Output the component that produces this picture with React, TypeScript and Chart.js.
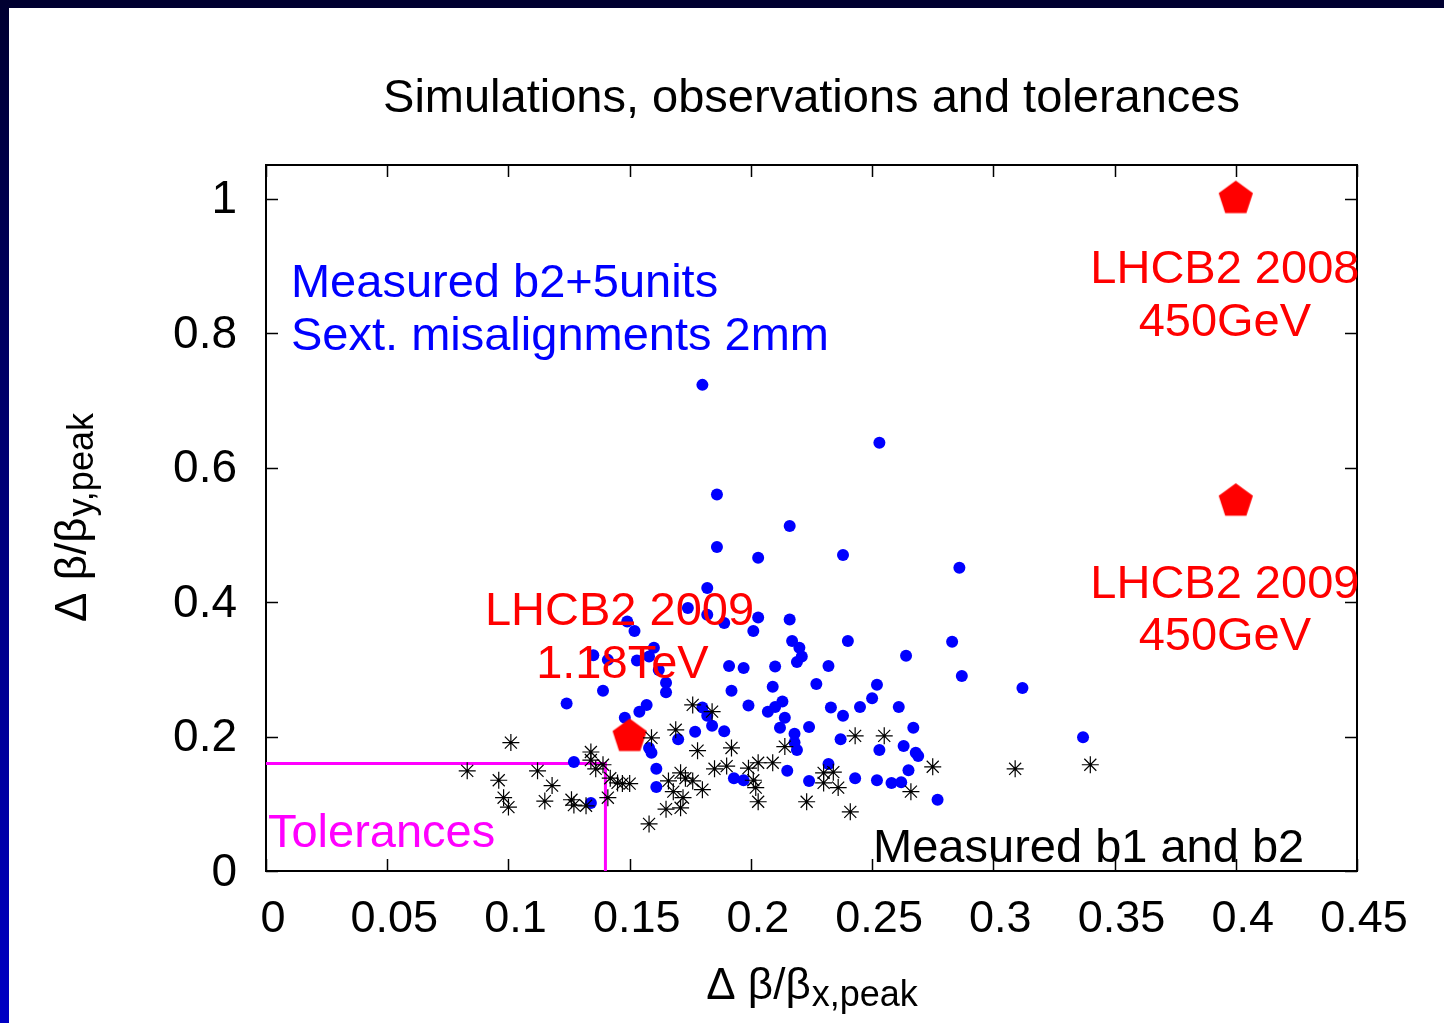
import React, { useEffect, useRef } from "react";
import { Chart, registerables } from "chart.js";

Chart.register(...registerables);

const FONT = "'Liberation Sans', Arial, Helvetica, sans-serif";

const TITLE = "Simulations, observations and tolerances";
const X_TICKS = [0, 0.05, 0.1, 0.15, 0.2, 0.25, 0.3, 0.35, 0.4, 0.45];
const Y_TICKS = [0, 0.2, 0.4, 0.6, 0.8, 1];
const X_MIN = 0;
const X_MAX = 0.45;
const Y_MIN = 0;
const Y_MAX = 1.05;

// Simulations: measured b2 + 5 units, sextupole misalignments 2mm (blue dots)
const SIM_X = [
  0.180, 0.253, 0.186, 0.186, 0.216, 0.203, 0.238, 0.286, 0.182, 0.174,
  0.182, 0.189, 0.203, 0.201, 0.149, 0.152, 0.216, 0.217, 0.220, 0.221,
  0.219, 0.240, 0.283, 0.264, 0.287, 0.312, 0.337, 0.135, 0.141, 0.153,
  0.160, 0.158, 0.162, 0.165, 0.165, 0.139, 0.124, 0.157, 0.154, 0.148,
  0.191, 0.197, 0.210, 0.232, 0.192, 0.209, 0.227, 0.252, 0.250, 0.245,
  0.261, 0.233, 0.238, 0.199, 0.213, 0.210, 0.207, 0.214, 0.212, 0.224,
  0.218, 0.218, 0.219, 0.237, 0.267, 0.263, 0.253, 0.268, 0.269, 0.265,
  0.180, 0.184, 0.177, 0.189, 0.170, 0.193, 0.197, 0.215, 0.224, 0.232,
  0.243, 0.252, 0.258, 0.262, 0.277, 0.158, 0.159, 0.161, 0.161, 0.127,
  0.134, 0.182,
];
const SIM_Y = [
  0.723, 0.637, 0.560, 0.482, 0.513, 0.466, 0.470, 0.451, 0.421, 0.391,
  0.381, 0.369, 0.377, 0.357, 0.371, 0.357, 0.374, 0.342, 0.332, 0.319,
  0.311, 0.342, 0.341, 0.320, 0.290, 0.272, 0.199, 0.321, 0.314, 0.313,
  0.332, 0.319, 0.299, 0.280, 0.266, 0.268, 0.249, 0.247, 0.237, 0.228,
  0.305, 0.302, 0.304, 0.305, 0.268, 0.274, 0.278, 0.277, 0.257, 0.244,
  0.244, 0.243, 0.231, 0.246, 0.252, 0.244, 0.237, 0.228, 0.213, 0.214,
  0.204, 0.191, 0.180, 0.196, 0.213, 0.186, 0.180, 0.176, 0.171, 0.150,
  0.243, 0.216, 0.207, 0.208, 0.196, 0.138, 0.135, 0.149, 0.134, 0.159,
  0.138, 0.135, 0.131, 0.132, 0.106, 0.183, 0.176, 0.152, 0.125, 0.162,
  0.101, 0.231,
];

// Measured b1 and b2 (black asterisks)
const MEAS_X = [
  0.083, 0.096, 0.101, 0.098, 0.100, 0.112, 0.118, 0.115, 0.126, 0.127,
  0.132, 0.134, 0.134, 0.136, 0.139, 0.142, 0.145, 0.147, 0.150, 0.141,
  0.159, 0.169, 0.176, 0.184, 0.178, 0.192, 0.214, 0.166, 0.171, 0.173,
  0.176, 0.168, 0.172, 0.171, 0.165, 0.158, 0.180, 0.185, 0.190, 0.199,
  0.203, 0.209, 0.201, 0.202, 0.203, 0.223, 0.230, 0.234, 0.230, 0.236,
  0.243, 0.255, 0.266, 0.275, 0.241, 0.309, 0.340,
];
const MEAS_Y = [
  0.149, 0.135, 0.191, 0.109, 0.095, 0.149, 0.127, 0.104, 0.106, 0.098,
  0.097, 0.177, 0.165, 0.152, 0.158, 0.138, 0.131, 0.130, 0.130, 0.109,
  0.198, 0.210, 0.247, 0.237, 0.179, 0.183, 0.185, 0.134, 0.146, 0.138,
  0.134, 0.118, 0.109, 0.094, 0.092, 0.070, 0.121, 0.152, 0.156, 0.153,
  0.161, 0.161, 0.135, 0.124, 0.103, 0.103, 0.146, 0.147, 0.131, 0.124,
  0.201, 0.201, 0.118, 0.155, 0.088, 0.152, 0.158,
];

// LHC B2 observations (red pentagons)
const LHC_X = [0.4, 0.4, 0.15];
const LHC_Y = [1.0, 0.55, 0.2];

// Tolerance box
const TOL_X = [0, 0.14, 0.14];
const TOL_Y = [0.16, 0.16, 0];

// Annotations: [text, x, y, align, color]
const NOTES: [string, number, number, CanvasTextAlign, string][] = [
  ["Measured b2+5units", 0.0103, 0.854, "left", "#0000ff"],
  ["Sext. misalignments 2mm", 0.0103, 0.775, "left", "#0000ff"],
  ["LHCB2 2008", 0.3955, 0.875, "center", "#ff0000"],
  ["450GeV", 0.3955, 0.796, "center", "#ff0000"],
  ["LHCB2 2009", 0.3955, 0.406, "center", "#ff0000"],
  ["450GeV", 0.3955, 0.329, "center", "#ff0000"],
  ["LHCB2 2009", 0.1458, 0.366, "center", "#ff0000"],
  ["1.18TeV", 0.147, 0.287, "center", "#ff0000"],
  ["Tolerances", 0.0008, 0.0357, "left", "#ff00ff"],
  ["Measured b1 and b2", 0.2504, 0.0134, "left", "#000000"],
];

function zip(xs: number[], ys: number[]) {
  return xs.map((x, i) => ({ x, y: ys[i] }));
}

function makePentagon(R: number, color: string) {
  const size = Math.ceil(R * 2 + 4);
  const c = document.createElement("canvas");
  c.width = size;
  c.height = size;
  const ctx = c.getContext("2d")!;
  ctx.fillStyle = color;
  ctx.beginPath();
  for (let i = 0; i < 5; i++) {
    const a = -Math.PI / 2 + (i * 2 * Math.PI) / 5;
    const px = size / 2 + R * Math.cos(a);
    const py = size / 2 + R * Math.sin(a);
    if (i === 0) ctx.moveTo(px, py);
    else ctx.lineTo(px, py);
  }
  ctx.closePath();
  ctx.fill();
  return c;
}

const fmt = (v: number) => String(Number(v.toFixed(3)));

const decorPlugin = {
  id: "decor",
  beforeDraw(chart: any) {
    const { ctx, width, height } = chart;
    ctx.save();
    ctx.fillStyle = "#ffffff";
    ctx.fillRect(0, 0, width, height);
    const g = ctx.createLinearGradient(0, 0, 0, height);
    g.addColorStop(0, "#000030");
    g.addColorStop(1, "#0000c4");
    ctx.fillStyle = g;
    ctx.fillRect(0, 0, width, 8);
    ctx.fillRect(0, 0, 9, height);
    ctx.restore();
  },
  beforeDatasetsDraw(chart: any) {
    const { ctx, chartArea: a, scales } = chart;
    const xs = scales.x;
    const ys = scales.y;
    ctx.save();
    ctx.strokeStyle = "#000000";
    ctx.lineWidth = 1.5;
    const tl = 12;
    ctx.beginPath();
    for (const t of xs.ticks) {
      const px = Math.round(xs.getPixelForValue(t.value)) + 0.5;
      ctx.moveTo(px, a.bottom);
      ctx.lineTo(px, a.bottom - tl);
      ctx.moveTo(px, a.top);
      ctx.lineTo(px, a.top + tl);
    }
    for (const t of ys.ticks) {
      const py = Math.round(ys.getPixelForValue(t.value)) + 0.5;
      ctx.moveTo(a.left, py);
      ctx.lineTo(a.left + tl, py);
      ctx.moveTo(a.right, py);
      ctx.lineTo(a.right - tl, py);
    }
    ctx.stroke();
    ctx.lineWidth = 2;
    ctx.strokeRect(a.left, a.top, a.right - a.left, a.bottom - a.top);
    ctx.restore();
  },
  afterDatasetsDraw(chart: any) {
    const { ctx, scales } = chart;
    ctx.save();
    ctx.font = `47px ${FONT}`;
    ctx.textBaseline = "alphabetic";
    for (const [text, x, y, align, color] of NOTES) {
      ctx.fillStyle = color;
      ctx.textAlign = align;
      ctx.fillText(text, scales.x.getPixelForValue(x), scales.y.getPixelForValue(y));
    }
    ctx.restore();
  },
  afterDraw(chart: any) {
    const { ctx, chartArea: a } = chart;
    ctx.save();
    ctx.fillStyle = "#000000";
    ctx.textBaseline = "alphabetic";
    // title
    ctx.font = `47px ${FONT}`;
    ctx.textAlign = "center";
    ctx.fillText(TITLE, (a.left + a.right) / 2, 112);
    // axis titles
    ctx.textAlign = "left";
    const main = "\u0394 \u03b2/\u03b2";
    const mainFont = `44px ${FONT}`;
    const subFont = `36px ${FONT}`;
    ctx.font = mainFont;
    const w1 = ctx.measureText(main).width;
    // x axis title
    ctx.font = subFont;
    const wx = ctx.measureText("x,peak").width;
    const wy = ctx.measureText("y,peak").width;
    let sx = (a.left + a.right) / 2 - (w1 + wx) / 2;
    ctx.font = mainFont;
    ctx.fillText(main, sx, 999);
    ctx.font = subFont;
    ctx.fillText("x,peak", sx + w1 + 1, 1006);
    // y axis title
    ctx.translate(86, (a.top + a.bottom) / 2);
    ctx.rotate(-Math.PI / 2);
    sx = -(w1 + wy) / 2;
    ctx.font = mainFont;
    ctx.fillText(main, sx, 0);
    ctx.font = subFont;
    ctx.fillText("y,peak", sx + w1 + 1, 7);
    ctx.restore();
  },
};

export default function App() {
  const ref = useRef<HTMLCanvasElement | null>(null);
  useEffect(() => {
    if (!ref.current) return;
    const pent = makePentagon(18, "#ff0000");
    const chart = new Chart(ref.current, {
      type: "scatter",
      data: {
        datasets: [
          {
            label: "Measured b1 and b2",
            data: zip(MEAS_X, MEAS_Y),
            pointStyle: "star",
            pointRadius: 8.5,
            borderColor: "#000000",
            backgroundColor: "#000000",
            borderWidth: 1.2,
          },
          {
            label: "LHCB2",
            data: zip(LHC_X, LHC_Y),
            pointStyle: pent as any,
            pointRadius: 18,
            backgroundColor: "#ff0000",
            borderWidth: 0,
          },
          {
            label: "Simulations",
            data: zip(SIM_X, SIM_Y),
            pointStyle: "circle",
            pointRadius: 6,
            backgroundColor: "#0000ff",
            borderColor: "#0000ff",
            borderWidth: 0,
          },
          {
            label: "Tolerances",
            data: zip(TOL_X, TOL_Y),
            showLine: true,
            pointRadius: 0,
            borderColor: "#ff00ff",
            borderWidth: 3,
            fill: false,
          },
        ],
      },
      options: {
        animation: false,
        responsive: false,
        devicePixelRatio: 1,
        events: [],
        layout: { padding: { top: 165, right: 87, left: 0, bottom: 0 } },
        plugins: {
          legend: { display: false },
          title: { display: false },
          tooltip: { enabled: false },
        },
        scales: {
          x: {
            type: "linear",
            min: X_MIN,
            max: X_MAX,
            afterFit: (s: any) => {
              s.height = 152;
            },
            afterBuildTicks: (s: any) => {
              s.ticks = X_TICKS.map((v) => ({ value: v }));
            },
            grid: { display: false, drawTicks: false },
            border: { display: false },
            ticks: {
              autoSkip: false,
              maxRotation: 0,
              padding: 22,
              labelOffset: 7,
              color: "#000000",
              font: { family: FONT, size: 45 },
              callback: (v: any) => fmt(Number(v)),
            },
          },
          y: {
            type: "linear",
            min: Y_MIN,
            max: Y_MAX,
            afterFit: (s: any) => {
              s.width = 266;
            },
            afterBuildTicks: (s: any) => {
              s.ticks = Y_TICKS.map((v) => ({ value: v }));
            },
            grid: { display: false, drawTicks: false },
            border: { display: false },
            ticks: {
              autoSkip: false,
              padding: 29,
              labelOffset: 2,
              color: "#000000",
              font: { family: FONT, size: 46 },
              callback: (v: any) => fmt(Number(v)),
            },
          },
        },
      },
      plugins: [decorPlugin],
    });
    return () => chart.destroy();
  }, []);
  return (
    <div style={{ position: "fixed", left: 0, top: 0, width: 1444, height: 1023, background: "#fff" }}>
      <canvas ref={ref} width={1444} height={1023} style={{ display: "block", width: 1444, height: 1023 }} />
    </div>
  );
}
